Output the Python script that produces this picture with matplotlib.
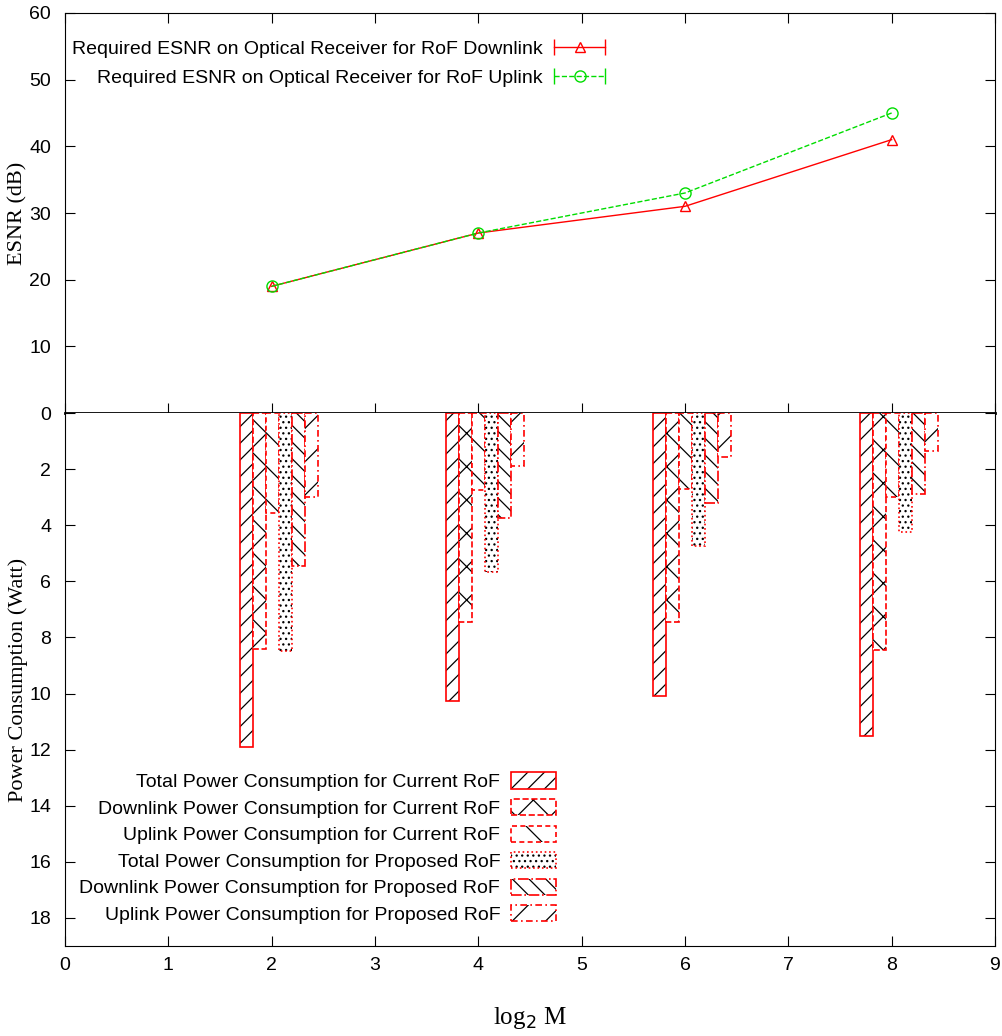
import numpy as np
import matplotlib.pyplot as plt
from matplotlib.lines import Line2D
from matplotlib.legend_handler import HandlerBase, HandlerTuple

plt.rcParams['font.family'] = ['Liberation Sans', 'DejaVu Sans']
plt.rcParams['hatch.linewidth'] = 0.9

# data
log2m = [2, 4, 6, 8]
esnr_down = [19, 27, 31, 41]
esnr_up = [19, 27, 33, 45]

bar_labels = ['Total Power Consumption for Current RoF',
              'Downlink Power Consumption for Current RoF',
              'Uplink Power Consumption for Current RoF',
              'Total Power Consumption for Proposed RoF',
              'Downlink Power Consumption for Proposed RoF',
              'Uplink Power Consumption for Proposed RoF']
total_cur = [11.9, 10.25, 10.1, 11.5]
down_cur = [8.4, 7.45, 7.45, 8.45]
up_cur = [3.55, 2.75, 2.7, 3.0]
total_prop = [8.5, 5.65, 4.75, 4.25]
down_prop = [5.45, 3.75, 3.2, 2.9]
up_prop = [3.0, 1.9, 1.55, 1.35]
bar_series = [total_cur, down_cur, up_cur, total_prop, down_prop, up_prop]

hatches = ['//', 'x', '\\', '...', '\\\\', '/']
edge_styles = ['-', '--', (0, (3, 2)), ':', '-.', (0, (4, 2, 1, 2))]


class CapLineHandler(HandlerBase):
    # gnuplot style key: line with end caps and one marker in the middle
    def create_artists(self, legend, orig_handle, xdescent, ydescent,
                       width, height, fontsize, trans):
        y = height / 2 - ydescent
        x0, x1 = -xdescent, width - xdescent
        c = orig_handle.get_color()
        ln = Line2D([x0, x1], [y, y], color=c, lw=1, ls=orig_handle.get_linestyle())
        caps = Line2D([x0, x1], [y, y], color=c, ls='none', marker='|', ms=11)
        mk = Line2D([(x0 + x1) / 2], [y], color=c, ls='none',
                    marker=orig_handle.get_marker(), ms=orig_handle.get_markersize(),
                    mfc='none', mec=c)
        for a in (ln, caps, mk):
            a.set_transform(trans)
        return [ln, caps, mk]


fig = plt.figure(figsize=(10.03, 10.36), dpi=100)
ax1 = fig.add_axes([0.0648, 0.6013, 0.9272, 0.3862])
ax2 = fig.add_axes([0.0648, 0.0869, 0.9272, 0.5144], sharex=ax1)

# top panel
l1, = ax1.plot(log2m, esnr_down, color='red', lw=1, marker='^', ms=7, mfc='none', mec='red')
l2, = ax1.plot(log2m, esnr_up, color='#00dd00', lw=1, ls='--', marker='o', ms=8, mfc='none', mec='#00dd00')
ax1.set_ylim(0, 60)
ax1.set_yticks(range(0, 70, 10))
ax1.set_yticklabels([''] + [str(v) for v in range(10, 70, 10)])
ax1.tick_params(direction='in', length=7, top=True, right=True, labelbottom=False, labelsize=14)
ax1.tick_params(axis='y', pad=10)
ax1.spines['bottom'].set_linewidth(2)
ax1.set_ylabel('ESNR (dB)', family='Liberation Serif', fontsize=16)
ax1.yaxis.set_label_coords(-0.04, 0.5)

ax1.legend([l1, l2],
           ['Required ESNR on Optical Receiver for RoF Downlink',
            'Required ESNR on Optical Receiver for RoF Uplink'],
           handler_map={Line2D: CapLineHandler()},
           loc='upper right', bbox_to_anchor=(0.591, 0.955), frameon=False,
           markerfirst=False, fontsize=14, handlelength=2.6, handletextpad=0.6,
           labelspacing=0.55, borderpad=0)

# bottom panel
width = 0.126
handles = []
for i, vals in enumerate(bar_series):
    x = np.array(log2m) - 0.31 + i * width
    b1 = ax2.bar(x, vals, width=width, align='edge', color='white',
                 edgecolor='black', hatch=hatches[i], linewidth=0)
    b2 = ax2.bar(x, vals, width=width, align='edge', fill=False,
                 edgecolor='red', linestyle=edge_styles[i], linewidth=1.2)
    handles.append((b1[0], b2[0]))

ax2.set_ylim(19, 0)
ax2.set_yticks(range(0, 20, 2))
ax2.set_xlim(0, 9)
ax2.set_xticks(range(0, 10))
ax2.tick_params(direction='in', length=7, top=False, right=True, labelsize=14, pad=8)
ax2.tick_params(axis='y', pad=10)
ax2.spines['top'].set_visible(False)
ax2.set_ylabel('Power Consumption (Watt)', family='Liberation Serif', fontsize=16)
ax2.yaxis.set_label_coords(-0.04, 0.5)
ax2.set_xlabel('log$_2$ M', family='Liberation Serif', fontsize=18)
ax2.xaxis.set_label_coords(0.5, -0.11)

ax2.legend(handles, bar_labels, handler_map={tuple: HandlerTuple(ndivide=1)},
           loc='lower right', bbox_to_anchor=(0.538, 0.023), frameon=False,
           markerfirst=False, fontsize=14, handlelength=2.3, handleheight=0.9,
           handletextpad=0.55, labelspacing=0.4, borderpad=0)

fig.savefig('out.png', dpi=100)
